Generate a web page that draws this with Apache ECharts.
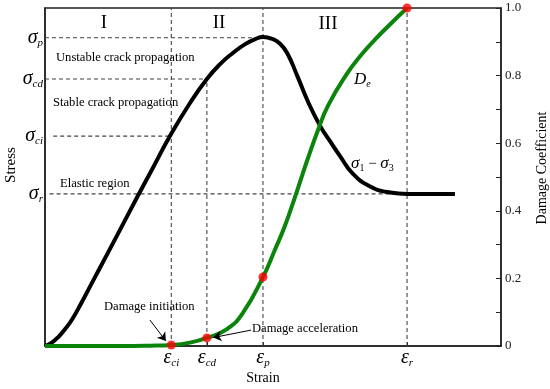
<!DOCTYPE html>
<html><head><meta charset="utf-8">
<script src="https://cdn.jsdelivr.net/npm/echarts@6/dist/echarts.min.js"></script>
<style>html,body{margin:0;padding:0;background:#fff}#c{width:550px;height:389px}</style>
</head><body><div id="c"></div>
<script>
// ---- data ----
const strainTicks = [27.7, 35.5, 47.8, 79.4];          // ε_ci, ε_cd, ε_p, ε_r
const strainTickSubs = ['ci', 'cd', 'p', 'r'];
const stressLevels = [0.450, 0.621, 0.790, 0.912];     // σ_r, σ_ci, σ_cd, σ_p
const stressLevelSubs = ['r', 'ci', 'cd', 'p'];
const damageTicks = [0, 0.2, 0.4, 0.6, 0.8, 1.0];

const stressX = [0, 1.5, 3.0, 4.5, 6.0, 8.0, 10.5, 13.5, 16.5, 20.2, 23.5, 27.4, 31.8, 35.5, 38.4, 41.2, 43.9, 46.1, 47.8, 49.8, 51.5, 53.1, 55.3, 57.7, 60.3, 62.5, 64.7, 67.5, 71.3, 75.7, 79.4, 89.9];
const stressY = [0, 0.010, 0.028, 0.052, 0.080, 0.128, 0.192, 0.268, 0.345, 0.440, 0.523, 0.621, 0.719, 0.790, 0.834, 0.867, 0.893, 0.908, 0.914, 0.909, 0.895, 0.867, 0.800, 0.722, 0.652, 0.606, 0.562, 0.510, 0.472, 0.454, 0.450, 0.450];

const damageX = [0, 16.4, 23.0, 27.7, 31.8, 35.5, 39.9, 43.4, 47.8, 50.4, 52.6, 54.8, 56.4, 57.7, 59.9, 62.1, 66.2, 69.1, 72.4, 75.7, 79.4];
const damageY = [0, 0, 0.001, 0.003, 0.010, 0.024, 0.050, 0.098, 0.204, 0.284, 0.355, 0.440, 0.505, 0.557, 0.640, 0.712, 0.805, 0.857, 0.907, 0.952, 1.0];

const keyDamage = [0.003, 0.024, 0.204, 1.0];          // damage at ε_ci, ε_cd, ε_p, ε_r

// ---- build ----
const SERIF = '"Liberation Serif", "Times New Roman", serif';
const zip = (xs, ys) => xs.map((x, i) => [x, ys[i]]);
const findIdx = (arr, v) => arr.findIndex(a => Math.abs(a - v) < 1e-6);

const [eCi, eCd, eP, eR] = strainTicks;
const [sR, sCi, sCd, sP] = stressLevels;
const guides = [
  [[0, sP], [eP, sP]],
  [[0, sCd], [eCd, sCd]],
  [[1.8, sCi], [eCi, sCi]],
  [[1.0, sR], [eR, sR]],
  [[eCi, 0], [eCi, 1]],
  [[eCd, 0], [eCd, sCd]],
  [[eP, 0], [eP, 1]],
  [[eR, 0], [eR, 1]]
];

const greekRich = {
  g: { fontFamily: SERIF, fontStyle: 'italic', fontSize: 20, lineHeight: 22, color: '#000' },
  s: { fontFamily: SERIF, fontStyle: 'italic', fontSize: 11, lineHeight: 10, verticalAlign: 'bottom', color: '#000' }
};

const chart = echarts.init(document.getElementById('c'), null, { renderer: 'canvas' });

const series = guides.map(g => ({
  type: 'line', data: g, symbol: 'none', silent: true, z: 1,
  lineStyle: { color: '#444', width: 1.1, type: [4, 3] }
}));

series.push({
  type: 'line', name: 'stress', data: zip(stressX, stressY), smooth: 0.5, symbol: 'none', z: 3,
  lineStyle: { color: '#000', width: 4 },
  markLine: {
    silent: true, symbol: ['none', 'arrow'], symbolSize: 8,
    label: { show: false },
    lineStyle: { color: '#000', width: 1, type: 'solid' },
    data: [
      [{ coord: [23.0, 0.077] }, { coord: [26.5, 0.015] }],
      [{ coord: [45.2, 0.047] }, { coord: [36.9, 0.025] }]
    ]
  }
});
series.push({
  type: 'line', name: 'damage', yAxisIndex: 1, data: zip(damageX, damageY), smooth: 0.5, symbol: 'none', z: 4,
  lineStyle: { color: '#0b840b', width: 4 }
});
series.push({
  type: 'scatter', yAxisIndex: 1, data: zip(strainTicks, keyDamage), symbolSize: 9, z: 5,
  itemStyle: { color: '#ff0000' }
});

const txt = (text, x, y, size, extra) => ({
  type: 'text', x: x, y: y, silent: true,
  style: Object.assign({ text: text, font: size + 'px ' + SERIF, fill: '#000',
    align: 'left', verticalAlign: 'middle', textAlign: 'left', textVerticalAlign: 'middle' }, extra || {})
});

const option = {
  animation: false,
  backgroundColor: '#fff',
  grid: { left: 45, right: 49, top: 8, bottom: 43, containLabel: false, outerBoundsMode: 'none',
    show: true, borderColor: '#222', borderWidth: 1.5, backgroundColor: 'transparent' },
  xAxis: {
    type: 'value', min: 0, max: 100,
    axisLine: { show: true, lineStyle: { color: '#222', width: 1.5 } },
    axisTick: { show: true, inside: true, length: 4, customValues: strainTicks, lineStyle: { color: '#222' } },
    axisLabel: {
      customValues: strainTicks, margin: 1,
      formatter: v => { const i = findIdx(strainTicks, v); return i < 0 ? '' : '{g|ε}{s|' + strainTickSubs[i] + '}'; },
      rich: greekRich
    },
    splitLine: { show: false }
  },
  yAxis: [{
    type: 'value', min: 0, max: 1, position: 'left',
    axisLine: { show: true, lineStyle: { color: '#222', width: 1.5 } },
    axisTick: { show: false },
    axisLabel: {
      customValues: stressLevels, margin: 2,
      formatter: v => { const i = findIdx(stressLevels, v); return i < 0 ? '' : '{g|σ}{s|' + stressLevelSubs[i] + '}'; },
      rich: greekRich
    },
    splitLine: { show: false }
  }, {
    type: 'value', min: 0, max: 1, interval: 0.1, position: 'right',
    axisLine: { show: true, lineStyle: { color: '#222', width: 1.5 } },
    axisTick: { show: true, inside: true, length: 5, lineStyle: { color: '#222' } },
    axisLabel: {
      margin: 4, color: '#222', fontFamily: SERIF, fontSize: 13,
      formatter: v => { const k = Math.round(v * 10); const t = damageTicks.find(d => Math.round(d * 10) === k); return t === undefined ? '' : (t === 0 ? '0' : t.toFixed(1)); }
    },
    splitLine: { show: false }
  }],
  graphic: [
    txt('I', 104, 23, 19, { align: 'center', textAlign: 'center' }),
    txt('II', 219, 23, 19, { align: 'center', textAlign: 'center' }),
    txt('III', 328, 24, 19, { align: 'center', textAlign: 'center' }),
    txt('Unstable crack propagation', 56, 58, 12.6),
    txt('Stable crack propagation', 53, 103, 12.6),
    txt('Elastic region', 60, 184, 12.6),
    txt('Damage initiation', 104, 307, 12.6),
    txt('Damage acceleration', 252, 329, 12.6),
    txt('{d|D}{s|e}', 354, 80, 16, { rich: {
      d: { fontFamily: SERIF, fontStyle: 'italic', fontSize: 17, lineHeight: 18 },
      s: { fontFamily: SERIF, fontStyle: 'italic', fontSize: 10, lineHeight: 8, verticalAlign: 'bottom' } } }),
    txt('{g|σ}{s|1}{m| − }{g|σ}{s|3}', 351, 164, 16, { rich: {
      g: { fontFamily: SERIF, fontStyle: 'italic', fontSize: 17, lineHeight: 18 },
      m: { fontFamily: SERIF, fontSize: 15, lineHeight: 18 },
      s: { fontFamily: SERIF, fontSize: 10, lineHeight: 8, verticalAlign: 'bottom' } } }),
    txt('Strain', 263, 378, 14, { align: 'center', textAlign: 'center' }),
    Object.assign(txt('Stress', 11, 165, 15, { align: 'center', textAlign: 'center' }), { rotation: Math.PI / 2 }),
    Object.assign(txt('Damage Coefficient', 542, 168, 14, { align: 'center', textAlign: 'center' }), { rotation: Math.PI / 2 })
  ],
  series: series
};
chart.setOption(option);
</script>
</body></html>
